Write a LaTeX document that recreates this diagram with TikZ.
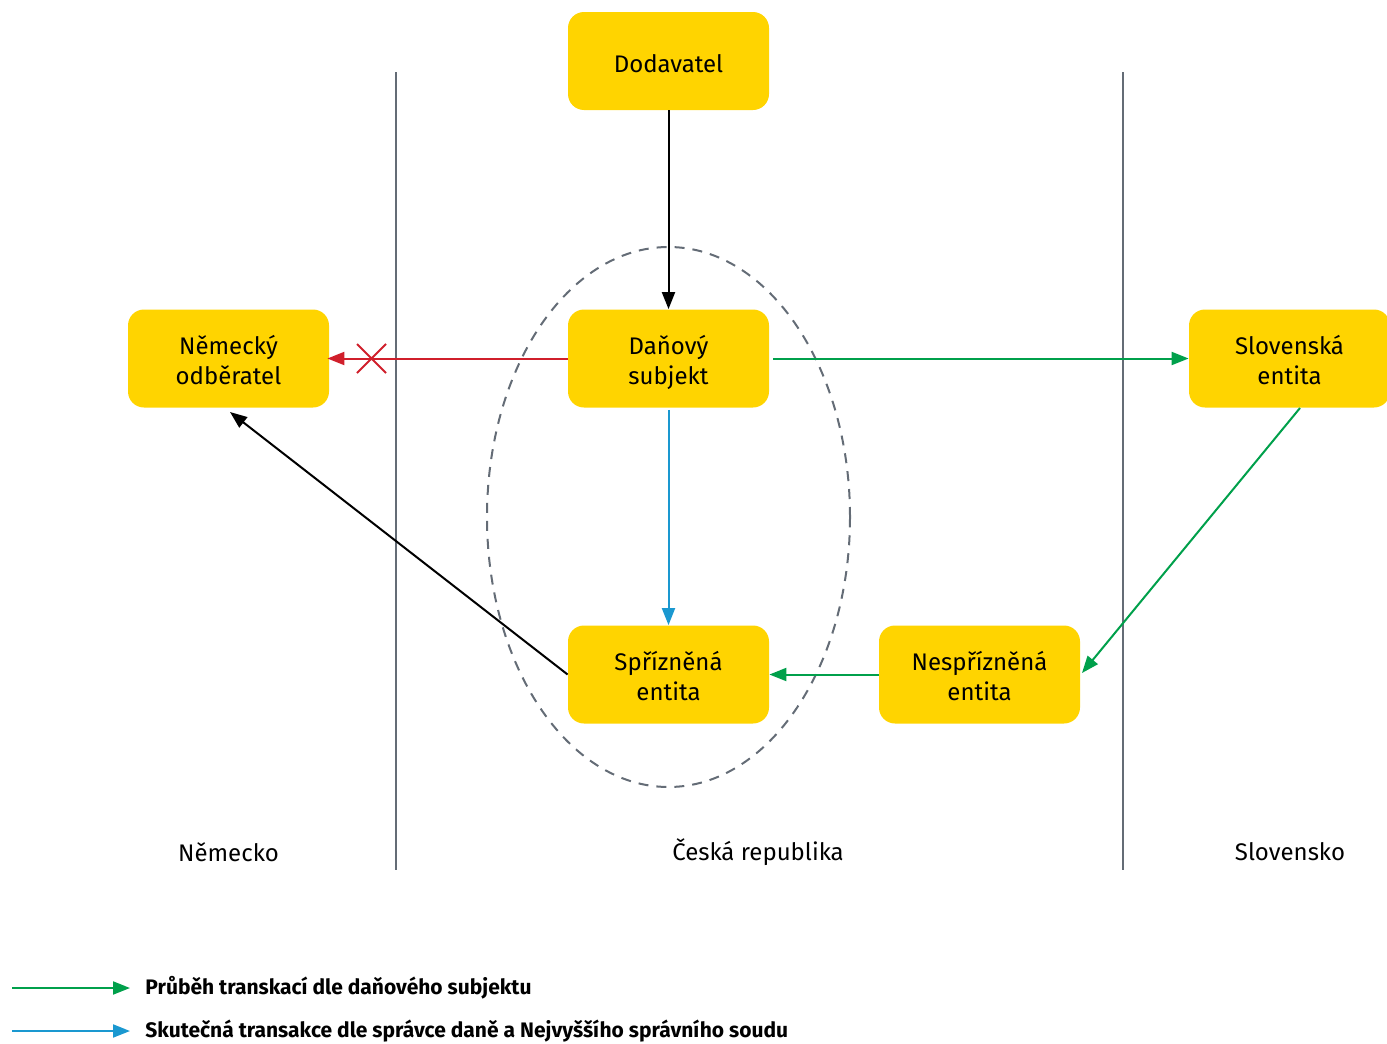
\documentclass[tikz,border=0pt]{standalone}
\usepackage{fontspec}
\setmainfont{Fira Sans}
\usetikzlibrary{arrows.meta,shapes.geometric}
\definecolor{eyyellow}{HTML}{FFD400}
\definecolor{flowgreen}{HTML}{00A04B}
\definecolor{flowblue}{HTML}{1A98D0}
\definecolor{flowred}{HTML}{D01F2B}
\definecolor{bordergray}{HTML}{646C76}
\newcommand\tstr{\rule{0pt}{14.5pt}}
\newcommand\bstr{\rule[-3.5pt]{0pt}{3.5pt}}
\tikzset{
  box/.style={fill=eyyellow, rounded corners=8pt, minimum width=100.5pt, minimum height=49pt,
    align=center, font=\fontsize{12}{15}\selectfont, inner sep=0pt},
  conn/.style={line width=1pt, -{Triangle[length=8.5pt,width=6.5pt]}},
  border/.style={bordergray, line width=1pt},
  region/.style={font=\fontsize{12}{15}\selectfont},
  legendtext/.style={anchor=west, font=\bfseries\fontsize{10.5}{12}\selectfont, inner sep=0pt},
}
\begin{document}
\begin{tikzpicture}[x=0.5pt,y=-0.5pt]
\useasboundingbox (0,0) rectangle (1387,1044);
% borders
\coordinate (b1t) at (396,72); \coordinate (b1b) at (396,870);
\coordinate (b2t) at (1123,72); \coordinate (b2b) at (1123,870);
\draw[border] (b1t) -- (b1b);
\draw[border] (b2t) -- (b2b);
% ellipse
\node[draw=bordergray, line width=1pt, ellipse, minimum width=181.5pt, minimum height=270pt, dash pattern=on 5pt off 4pt] (ell) at (668.5,517) {};
% nodes
\node[box] (dod) at (668.5,61) {\tstr Dodavatel\bstr};
\node[box] (dan) at (668.5,358.5) {\tstr Daňový\\subjekt\bstr};
\node[box] (nem) at (228.5,358.5) {\tstr Německý\\odběratel\bstr};
\node[box] (slo) at (1289.5,358.5) {\tstr Slovenská\\entita\bstr};
\node[box] (spr) at (668.5,674.5) {\tstr Spřízněná\\entita\bstr};
\node[box] (nes) at (979.5,674.5) {\tstr Nespřízněná\\entita\bstr};
% region labels
\node[region] (lnem) at (228.5,852) {Německo};
\node[region] (lcz) at (758,852) {Česká republika};
\node[region] (lsk) at (1290,852) {Slovensko};
% connectors
\draw[conn] (dod.south) -- (dan.north);
\draw[conn, flowred] (dan.west) -- ([xshift=-1pt]nem.east);
\coordinate (xc) at (371.5,358.5);
\draw[flowred, line width=1pt] ([shift={(-14.5,-14.5)}]xc) -- ([shift={(14.5,14.5)}]xc)
  ([shift={(-14.5,14.5)}]xc) -- ([shift={(14.5,-14.5)}]xc);
\draw[conn, flowgreen] ([xshift=2pt]dan.east) -- (slo.west);
\coordinate (slob) at (1300,408);
\coordinate (nesr) at (1082,673);
\draw[conn, flowgreen] (slob) -- (nesr);
\draw[conn, flowgreen] (nes.west) -- (spr.east);
\draw[conn, flowblue] ([yshift=-1pt]dan.south) -- (spr.north);
\coordinate (nemb) at (230,412);
\draw[conn] (spr.west) -- (nemb);
% legend
\coordinate (g1) at (12,988); \coordinate (g2) at (130,988);
\coordinate (bl1) at (12,1031); \coordinate (bl2) at (130,1031);
\draw[conn, flowgreen] (g1) -- (g2);
\draw[conn, flowblue] (bl1) -- (bl2);
\node[legendtext] (lg1) at (145,988) {Průběh transkací dle daňového subjektu};
\node[legendtext] (lg2) at (145,1031) {Skutečná transakce dle správce daně a Nejvyššího správního soudu};
\end{tikzpicture}
\end{document}
